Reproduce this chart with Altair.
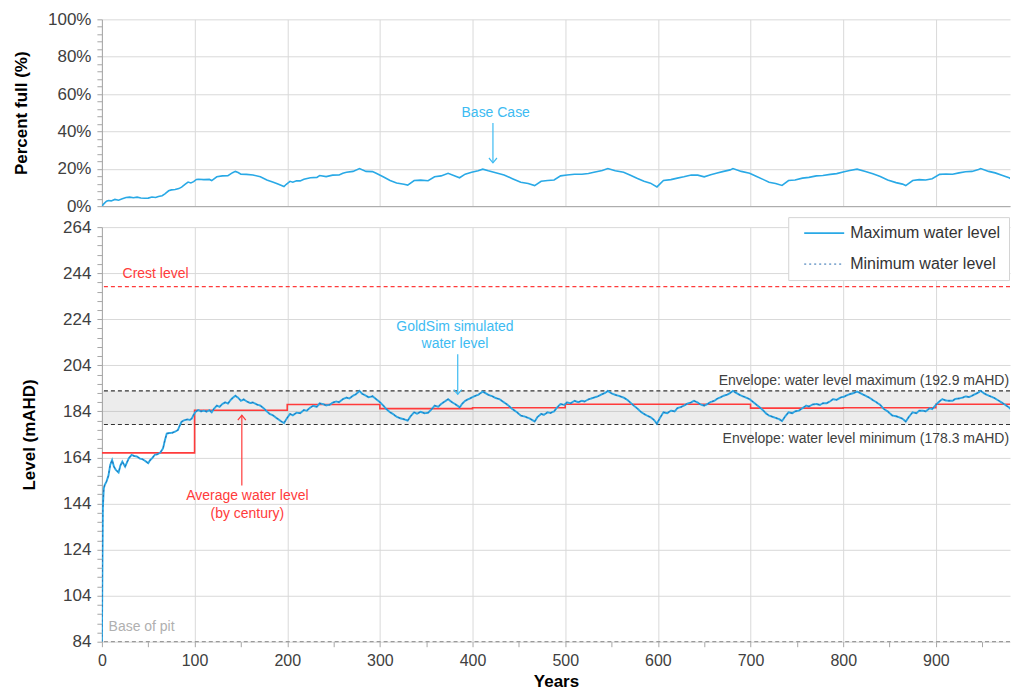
import altair as alt
import pandas as pd

FONT = "Liberation Sans, Arial, Helvetica, sans-serif"
BLUE = "#29a9e6"
NAVY = "#2a6cb0"
RED = "#ff3b3b"
GRID = "#d9d9d9"
AXIS_C = "#a6a6a6"
LABEL_C = "#404040"
ANN_BLUE = "#3dbbf2"

# ---------------- Top panel: percent full ----------------
TOP_YEARS = [0, 2, 5, 7, 10, 14, 18, 22, 26, 30,
             34, 38, 42, 46, 50, 54, 58, 61, 65, 68,
             72, 75, 79, 83, 86, 90, 93, 96, 99, 102,
             104, 110, 116, 118.5, 124, 130, 136, 141, 144, 147,
             150, 156, 163, 171, 178, 185, 190, 196.5, 199, 203,
             206, 210, 214, 218, 225, 232, 235, 242, 249, 256,
             260, 264, 271, 278, 285, 292, 296, 304, 311, 318,
             326, 330, 337, 344, 352, 359, 366, 373.6, 381, 386,
             392, 399, 406, 411, 417, 425, 434, 443, 452, 460,
             467, 474, 481, 488, 495, 502, 510, 518, 525, 531,
             540, 546, 554, 563, 571, 578, 585, 592, 599, 606,
             614, 621, 628, 636, 643, 650, 657, 664, 671, 678,
             681, 690, 699, 706, 714, 720, 727, 734, 741, 748,
             756, 763, 771, 778, 786, 793, 801, 807, 815, 824,
             832, 840, 848, 857, 864, 867.5, 875, 882, 889, 896,
             904, 911, 918, 925, 932, 939, 946, 948.4, 957, 964,
             972, 979, 986, 990]
TOP_PCT = [0, 1.2, 2.6, 3.0, 2.8, 3.6, 3.2, 3.9, 4.6, 4.8,
           4.5, 4.8, 4.4, 4.2, 4.3, 4.9, 4.6, 5.2, 5.6, 6.6,
           8.2, 8.7, 8.9, 9.4, 10.2, 11.8, 12.9, 12.4, 13.1, 14.3,
           14.4, 14.2, 14.3, 13.7, 15.7, 16.2, 16.3, 17.9, 18.6, 18.0,
           17.1, 17.0, 16.7, 15.7, 14.0, 12.8, 11.8, 10.5, 11.7, 13.3,
           12.8, 13.6, 13.5, 14.4, 15.2, 15.4, 16.4, 15.8, 16.6, 16.7,
           17.6, 18.1, 18.6, 20.1, 18.6, 18.5, 17.6, 15.6, 13.7, 12.4,
           11.7, 11.3, 13.7, 13.9, 13.6, 15.7, 16.2, 17.6, 16.2, 15.2,
           17.1, 18.1, 18.9, 19.8, 18.9, 17.9, 16.7, 14.7, 12.8, 12.1,
           11.0, 13.3, 13.7, 14.0, 16.2, 16.7, 17.1, 17.1, 17.5, 18.1,
           19.1, 20.1, 18.9, 18.1, 16.4, 14.8, 13.3, 12.3, 10.3, 13.7,
           14.2, 15.0, 15.7, 16.7, 16.6, 15.7, 16.8, 17.7, 18.6, 19.4,
           20.1, 18.6, 17.6, 16.0, 14.2, 12.8, 12.1, 11.1, 13.7, 14.0,
           15.0, 15.4, 16.2, 16.4, 17.0, 17.4, 18.4, 19.1, 19.8, 18.6,
           17.3, 15.9, 14.0, 12.6, 11.8, 11.0, 13.7, 14.2, 14.0, 14.7,
           17.0, 17.2, 17.1, 17.8, 18.4, 18.6, 19.6, 20.1, 18.6, 17.8,
           16.4, 15.2, 13.3, 12.8]

# ---------------- Bottom panel: water level (mAHD) ----------------
LEVEL_YEARS = [0, 0.5, 1, 2, 3, 5, 7, 9, 11, 13,
               15, 18, 20, 22, 25, 27, 29, 32, 35, 38,
               41, 44, 47, 50, 52, 54, 57, 60, 63, 66,
               68, 70, 73, 76, 79, 82, 84, 86, 89, 92,
               95, 97, 99, 101, 104, 107, 110, 113, 116, 118.5,
               121, 124, 127, 130, 133, 136, 139, 141, 144, 147,
               150, 153, 156, 160, 163, 167, 171, 175, 178, 181,
               185, 188, 190, 193, 196.5, 199, 203, 206, 210, 214,
               218, 221, 225, 228, 232, 235, 239, 242, 246, 249,
               253, 256, 260, 264, 267, 271, 274, 278, 281, 285,
               288, 292, 296, 300, 304, 307, 311, 314, 318, 322,
               326, 330, 333, 337, 340, 344, 348, 352, 356, 359,
               363, 366, 370, 373.6, 377, 381, 384, 386, 389, 392,
               395, 399, 402, 406, 409, 411, 414, 417, 421, 425,
               429, 434, 438, 443, 448, 452, 456, 460, 463, 467,
               470, 474, 477, 481, 484, 488, 491, 495, 499, 502,
               506, 510, 514, 518, 521, 525, 528, 531, 535, 540,
               543, 546, 550, 554, 558, 563, 567, 571, 574, 578,
               581, 585, 589, 592, 596, 599, 602, 606, 610, 614,
               618, 621, 625, 628, 632, 636, 639, 643, 646, 650,
               654, 657, 661, 664, 668, 671, 675, 678, 681, 685,
               690, 694, 699, 703, 706, 710, 714, 717, 720, 724,
               727, 731, 734, 737, 741, 745, 748, 752, 756, 760,
               763, 767, 771, 775, 778, 782, 786, 789, 793, 797,
               801, 804, 807, 811, 815, 819, 824, 828, 832, 836,
               840, 844, 848, 853, 857, 860, 864, 867.5, 871, 875,
               879, 882, 886, 889, 893, 896, 900, 904, 907, 911,
               914, 918, 921, 925, 929, 932, 936, 939, 943, 946,
               948.4, 952, 957, 961, 964, 968, 972, 975, 979, 983,
               986, 990]
LEVEL_MAX = [84, 112, 142, 150.5, 152, 153.6, 156, 160.8, 162.9, 160,
             158.6, 157.5, 160.5, 162.2, 160, 161.8, 163.6, 165.1, 164.6, 164.4,
             163.5, 163.2, 162.4, 161.5, 162.8, 163.6, 165.1, 165.4, 166.1, 168,
             171.5, 174.4, 174.6, 174.7, 175.2, 175.9, 177.8, 179.5, 180.2, 180.5,
             180.3, 180.9, 182.5, 183.8, 184.6, 184.0, 184.3, 183.9, 184.5, 183.6,
             185.2, 186.5, 186.0, 187.2, 187.9, 187.4, 189.0, 189.8, 190.8, 189.9,
             188.6, 189.2, 188.4, 187.6, 187.9, 187.0, 186.5, 185.2, 184.0, 182.9,
             182.2, 181.2, 180.7, 179.8, 178.9, 180.6, 182.9, 182.3, 183.4, 183.2,
             184.6, 184.3, 185.7, 186.4, 186.0, 187.5, 187.1, 186.6, 186.9, 187.8,
             188.3, 188.0, 189.3, 190.0, 189.6, 190.8, 191.4, 192.9, 191.6, 190.8,
             190.1, 190.6, 189.3, 188.0, 186.4, 185.0, 183.6, 182.9, 181.7, 181.0,
             180.6, 180.0, 181.8, 183.6, 183.0, 183.8, 183.2, 183.4, 185.0, 186.5,
             186.0, 187.2, 188.3, 189.3, 188.2, 187.2, 186.4, 185.7, 187.4, 188.6,
             189.2, 190.0, 190.6, 191.2, 192.0, 192.6, 191.9, 191.2, 190.6, 189.8,
             189.3, 187.9, 186.8, 185.0, 183.6, 182.2, 181.8, 181.2, 180.6, 179.6,
             181.5, 182.9, 182.5, 183.6, 183.3, 184.0, 185.6, 187.2, 186.8, 187.9,
             187.5, 188.6, 188.0, 188.6, 188.3, 189.2, 189.6, 190.0, 190.5, 191.5,
             192.0, 192.9, 191.8, 191.2, 190.7, 190.0, 189.0, 187.6, 186.5, 185.2,
             184.0, 182.9, 182.0, 181.5, 180.2, 178.6, 181.0, 183.6, 183.2, 184.3,
             184.0, 185.4, 185.9, 186.5, 187.4, 187.9, 188.6, 187.8, 187.0, 186.5,
             187.3, 188.1, 188.6, 189.5, 190.2, 190.8, 191.3, 192.0, 192.9, 191.9,
             190.8, 190.2, 189.3, 188.0, 187.0, 185.7, 184.3, 183.0, 182.2, 181.6,
             181.2, 180.6, 179.8, 181.6, 183.6, 183.2, 184.0, 184.3, 185.4, 186.5,
             186.1, 187.0, 187.2, 186.8, 187.5, 187.5, 188.4, 189.3, 189.0, 190.0,
             190.4, 191.0, 191.5, 191.9, 192.6, 191.8, 190.8, 190.0, 188.9, 187.9,
             186.8, 185.0, 184.0, 182.2, 181.9, 181.5, 180.8, 179.6, 181.7, 183.6,
             183.2, 184.3, 184.3, 184.0, 185.3, 185.0, 186.8, 188.4, 189.3, 188.7,
             188.6, 188.6, 189.4, 189.6, 190.0, 190.5, 190.2, 190.8, 191.6, 192.2,
             192.9, 191.8, 190.8, 190.2, 189.6, 188.6, 187.6, 186.8, 185.7, 184.2,
             183.0, 182.2]
LEVEL_MIN = LEVEL_MAX  # minimum and maximum traces coincide at this scale
SERIES = ["Maximum water level", "Minimum water level"]

CENTURY_START = [0, 100, 200, 300, 400, 500, 600, 700, 800, 900, 990]
CENTURY_AVG = [166.0, 184.5, 187.0, 185.2, 185.6, 187.1, 187.1, 185.4, 185.6, 187.1, 187.1]

ENVELOPE = [178.3, 192.9]
CREST = 238.2
BASE = 84

X_DOMAIN = [0, 980]
W, H_TOP, H_BOT = 909, 187, 415

X_GRID = list(range(0, 1000, 100))
X_TICKS = list(range(0, 1000, 50))
TOP_TICKS = list(range(0, 101, 4))
BOT_TICKS = list(range(84, 265, 4))


def cond(test, a, b):
    return {"condition": {"test": test, "value": a}, "value": b}


# ---------------- top chart ----------------
x_top = alt.X("year:Q", scale=alt.Scale(domain=X_DOMAIN, nice=False, zero=False),
              axis=alt.Axis(values=X_GRID, labels=False, ticks=False, title=None,
                            grid=True, domain=True))
y_top = alt.Y("pct:Q", scale=alt.Scale(domain=[0, 100], nice=False, zero=False),
              axis=alt.Axis(title="Percent full (%)", values=TOP_TICKS,
                            labelExpr="datum.value % 20 == 0 ? datum.value + '%' : ''",
                            gridOpacity=cond("datum.value % 20 == 0", 1, 0),
                            labelOverlap=False, labelFontSize=17, labelPadding=6,
                            tickSize=5, titleFontSize=17, titleFontWeight="bold",
                            titlePadding=17))

top_df = pd.DataFrame({"year": TOP_YEARS, "pct": TOP_PCT})
top_line = alt.Chart(top_df).mark_line(color=BLUE, strokeWidth=1.6, clip=True).encode(x=x_top, y=y_top)

bc_text = alt.Chart(pd.DataFrame({"year": [425], "pct": [49.8], "t": ["Base Case"]})).mark_text(
    color=ANN_BLUE, fontSize=14, font=FONT).encode(x=x_top, y=y_top, text="t:N")
bc_shaft = alt.Chart(pd.DataFrame({"year": [422], "pct": [44.5], "pct2": [23.2]})).mark_rule(
    color=ANN_BLUE, strokeWidth=1.2).encode(x=x_top, y=y_top, y2="pct2:Q")
bc_head = alt.Chart(pd.DataFrame({"year": [422], "pct": [23.2]})).mark_point(
    shape="M-1,-1.2L0,0L1,-1.2", size=64, filled=False, color=ANN_BLUE, strokeWidth=1.2,
    opacity=1).encode(x=x_top, y=y_top)

top = alt.layer(top_line, bc_text, bc_shaft, bc_head).properties(width=W, height=H_TOP)

# ---------------- bottom chart ----------------
x_bot = alt.X("year:Q", scale=alt.Scale(domain=X_DOMAIN, nice=False, zero=False),
              axis=alt.Axis(title="Years", values=X_TICKS,
                            labelExpr="datum.value % 100 == 0 ? datum.label : ''",
                            gridOpacity=cond("datum.value % 100 == 0", 1, 0),
                            labelOverlap=False, labelFlush=False, domain=False,
                            tickSize=5, labelFontSize=16, labelPadding=6,
                            titleFontSize=17, titleFontWeight="bold", titlePadding=5))
y_bot = alt.Y("level:Q", scale=alt.Scale(domain=[84, 264], nice=False, zero=False),
              axis=alt.Axis(title="Level (mAHD)", values=BOT_TICKS,
                            labelExpr="datum.value % 20 == 4 ? datum.label : ''",
                            gridOpacity=cond("datum.value % 20 == 4", 1, 0),
                            labelOverlap=False, labelFontSize=17, labelPadding=6,
                            tickSize=5, titleFontSize=17, titleFontWeight="bold",
                            titlePadding=24))

band = alt.Chart(pd.DataFrame({"level": [ENVELOPE[0]], "level2": [ENVELOPE[1]]})).mark_rect(
    color="#9e9e9e", opacity=0.2).encode(y=y_bot, y2="level2:Q")
env_rules = alt.Chart(pd.DataFrame({"level": ENVELOPE})).mark_rule(
    color="#333333", strokeDash=[4, 3], strokeWidth=1.2).encode(y=y_bot)
crest_rule = alt.Chart(pd.DataFrame({"level": [CREST]})).mark_rule(
    color=RED, strokeDash=[4, 3], strokeWidth=1.2).encode(y=y_bot)
base_rule = alt.Chart(pd.DataFrame({"level": [BASE]})).mark_rule(
    color="#9a9a9a", strokeDash=[4, 3], strokeWidth=1.2).encode(y=y_bot)

avg_df = pd.DataFrame({"year": CENTURY_START, "level": CENTURY_AVG})
avg_line = alt.Chart(avg_df).mark_line(color=RED, strokeWidth=1.6, interpolate="step-after",
                                       clip=True).encode(x=x_bot, y=y_bot)

lvl_df = pd.concat([
    pd.DataFrame({"year": LEVEL_YEARS, "level": LEVEL_MAX, "series": SERIES[0]}),
    pd.DataFrame({"year": LEVEL_YEARS, "level": LEVEL_MIN, "series": SERIES[1]}),
], ignore_index=True)

LEG = alt.Legend(title=None, orient="none", legendX=687, legendY=198,
                 symbolType="M0,0L6,0", symbolSize=178, symbolStrokeWidth=1.5,
                 labelFontSize=16, labelFont=FONT, labelColor="#333333", labelOffset=38,
                 fillColor="white", strokeColor="#d4d4d4", padding=8, rowPadding=15)

water = alt.Chart(lvl_df).mark_line(clip=True).encode(
    x=x_bot, y=y_bot,
    color=alt.Color("series:N", scale=alt.Scale(domain=SERIES, range=[BLUE, NAVY]), legend=LEG),
    strokeDash=alt.StrokeDash("series:N", scale=alt.Scale(domain=SERIES, range=[[1, 0], [2, 3]]),
                              legend=LEG),
    strokeWidth=alt.StrokeWidth("series:N", scale=alt.Scale(domain=SERIES, range=[1.9, 1.0]),
                                legend=None),
)

# annotations
red_txt = pd.DataFrame({"year": [157, 157], "level": [147.1, 139.6],
                        "t": ["Average water level", "(by century)"]})
red_text = alt.Chart(red_txt).mark_text(color=RED, fontSize=14, font=FONT).encode(
    x=x_bot, y=y_bot, text="t:N")
red_shaft = alt.Chart(pd.DataFrame({"year": [151], "level": [151.8], "level2": [182.3]})).mark_rule(
    color=RED, strokeWidth=1.2).encode(x=x_bot, y=y_bot, y2="level2:Q")
red_head = alt.Chart(pd.DataFrame({"year": [151], "level": [182.3]})).mark_point(
    shape="M-1,1.2L0,0L1,1.2", size=64, filled=False, color=RED, strokeWidth=1.2,
    opacity=1).encode(x=x_bot, y=y_bot)

crest_text = alt.Chart(pd.DataFrame({"year": [22.3], "level": [243.5], "t": ["Crest level"]})).mark_text(
    color=RED, fontSize=14, font=FONT, align="left").encode(x=x_bot, y=y_bot, text="t:N")

gs_txt = pd.DataFrame({"year": [381, 381], "level": [220.5, 213.1],
                       "t": ["GoldSim simulated", "water level"]})
gs_text = alt.Chart(gs_txt).mark_text(color=ANN_BLUE, fontSize=14, font=FONT).encode(
    x=x_bot, y=y_bot, text="t:N")
gs_shaft = alt.Chart(pd.DataFrame({"year": [384], "level": [208.8], "level2": [191.4]})).mark_rule(
    color=ANN_BLUE, strokeWidth=1.2).encode(x=x_bot, y=y_bot, y2="level2:Q")
gs_head = alt.Chart(pd.DataFrame({"year": [384], "level": [191.4]})).mark_point(
    shape="M-1,-1.2L0,0L1,-1.2", size=64, filled=False, color=ANN_BLUE, strokeWidth=1.2,
    opacity=1).encode(x=x_bot, y=y_bot)

env_txt = pd.DataFrame({"year": [979, 979], "level": [197.2, 172.1],
                        "t": ["Envelope: water level maximum (192.9 mAHD)",
                              "Envelope: water level minimum (178.3 mAHD)"]})
env_text = alt.Chart(env_txt).mark_text(color=LABEL_C, fontSize=14, font=FONT, align="right").encode(
    x=x_bot, y=y_bot, text="t:N")

pit_text = alt.Chart(pd.DataFrame({"year": [7.2], "level": [90.3], "t": ["Base of pit"]})).mark_text(
    color="#b0b0b0", fontSize=14, font=FONT, align="left").encode(x=x_bot, y=y_bot, text="t:N")

bottom = alt.layer(band, env_rules, crest_rule, base_rule, avg_line, water,
                   red_text, red_shaft, red_head, crest_text,
                   gs_text, gs_shaft, gs_head, env_text, pit_text).properties(width=W, height=H_BOT)

chart = alt.vconcat(top, bottom, spacing=21, bounds="flush").properties(
    padding={"left": 4, "top": 2, "right": 0, "bottom": 0}
).configure_axis(
    labelFont=FONT, titleFont=FONT, labelColor=LABEL_C, titleColor="#000000",
    gridColor=GRID, gridWidth=1, domainColor=AXIS_C, tickColor=AXIS_C,
).configure_view(stroke=None)

chart.save("out.html", embed_options={"renderer": "svg", "actions": False})
